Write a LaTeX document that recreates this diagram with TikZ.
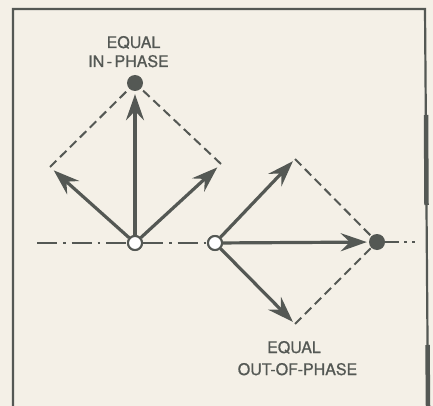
\documentclass[tikz,border=0pt]{standalone}
\usepackage{fontspec}
\setmainfont{TeX Gyre Heros}[FakeBold=0.8]
\usetikzlibrary{arrows.meta}
\definecolor{bg}{RGB}{244,240,231}
\definecolor{ink}{RGB}{84,88,84}
\tikzset{
  vec/.style={ink, line width=3.2pt, -{Stealth[length=26pt,width=18pt,inset=9pt]}, shorten >=5pt},
  comp/.style={ink, line width=2pt, dash pattern=on 9pt off 5pt},
  axisline/.style={ink, line width=1.8pt, dash pattern=on 20pt off 6pt on 2.5pt off 6pt},
  opendot/.style={circle, draw=ink, fill=white, line width=2pt, minimum size=14pt, inner sep=0pt},
  fulldot/.style={circle, fill=ink, minimum size=16pt, inner sep=0pt},
  lbl/.style={text=ink, font=\fontsize{16}{19}\selectfont, inner sep=0pt, anchor=base},
  frame/.style={ink, line width=2.2pt},
}
\begin{document}
\begin{tikzpicture}[x=1pt,y=-1pt]
\fill[bg] (0,0) rectangle (433,406);
\useasboundingbox (0,0) rectangle (433,406);
% frame
\coordinate (f1) at (13,406);
\coordinate (f2) at (13,9);
\coordinate (f3) at (425,9);
\coordinate (f4) at (428,406);
\draw[frame] (f1) -- (f2) -- (f3) -- (f4);
\coordinate (t1a) at (426,115);
\coordinate (t1b) at (426.5,205);
\coordinate (t2a) at (427.5,345);
\coordinate (t2b) at (428,406);
\draw[ink, line width=4.5pt] (t1a) -- (t1b);
\draw[ink, line width=4.5pt] (t2a) -- (t2b);
% axis
\coordinate (axL) at (37,243);
\coordinate (axR) at (415,242);
\node[opendot] (O1) at (135,243) {};
\node[opendot] (O2) at (215,243) {};
\node[fulldot] (T1) at (135,83) {};
\node[fulldot] (D2) at (377,242) {};
\draw[axisline] (axL) -- (O1);
\draw[axisline] (O1) -- (O2);
\draw[ink, line width=1.8pt, dash pattern=on 14pt off 5pt on 3pt off 5pt] (D2) -- (axR);
% in-phase diamond
\coordinate (L1) at (50,167);
\coordinate (R1) at (221,164);
\draw[comp] (L1) -- (T1.center);
\draw[comp] (R1) -- (T1.center);
\draw[vec] (O1) -- (L1);
\draw[vec] (O1) -- (R1);
\draw[vec, shorten >=3pt] (O1) -- (T1);
% out-of-phase diamond
\coordinate (U2) at (295,159);
\coordinate (W2) at (295,324);
\draw[comp] (U2) -- (D2.center);
\draw[comp] (W2) -- (D2.center);
\draw[vec, shorten >=3pt] (O2) -- (U2);
\draw[vec, shorten >=3pt] (O2) -- (W2);
\draw[vec, shorten >=2pt] (O2) -- (D2);
\node[opendot] at (O1) {};
\node[opendot] at (O2) {};
% labels
\node[lbl] (l1) at (133.5,48) {EQUAL};
\node[lbl] (l2) at (128.5,67) {IN\kern2.5pt-\kern2.5pt PHASE};
\node[lbl] (l3) at (294,353) {EQUAL};
\node[lbl] (l4) at (297.5,375) {OUT-OF-PHASE};
\end{tikzpicture}
\end{document}
